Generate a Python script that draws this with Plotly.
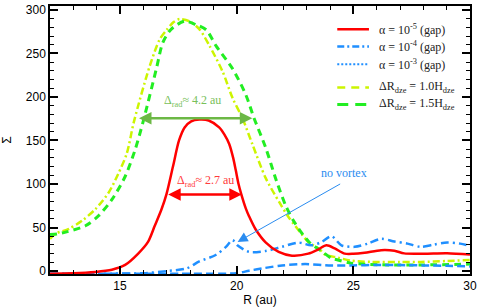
import plotly.graph_objects as go

# ---------------- data ----------------
R_a5 = [12, 13, 13.94, 14.65, 15.22, 15.78, 16.2, 16.49, 16.78, 16.99, 17.27, 17.53, 17.77, 18.05,
        18.4, 18.8, 19.25, 19.47, 19.68, 19.85, 19.96, 20.08, 20.2, 20.39, 20.53, 20.81, 21.24,
        21.8, 22.37, 23.07, 23.5, 23.85, 24.2, 24.63, 25.0, 25.48, 26.19, 26.76, 27.18, 28.03,
        29.02, 30]
S_a5 = [-3, -2.5, -1, 1.5, 7, 20, 33.4, 52, 71, 88, 120, 150, 165, 172,
        174, 173, 165, 157, 146, 130, 116, 100, 88, 72, 63, 48, 33,
        22, 17.7, 20, 25, 29.6, 26, 20, 19.8, 21, 24, 23.3, 20.3, 20,
        20.5, 19]

R_a4 = [12, 14, 16, 17, 17.85, 18.4, 19.1, 19.54, 19.82, 20.03, 20.53, 21.24, 21.94, 22.65,
        23.2, 23.64, 24.06, 24.49, 25.06, 25.62, 26.19, 26.76, 27.32, 27.89, 28.45, 29.02,
        29.58, 30]
S_a4 = [-3, -3, -2.5, 0, 3, 11, 18.4, 27.8, 35.5, 29.6, 22, 23, 27.8, 32.7,
        29.6, 33.4, 40, 29.6, 27.8, 31.5, 37, 34, 31.5, 27.8, 30.4, 32.7,
        31.5, 29]

R_a3 = [12, 18, 20, 20.53, 21.2, 21.94, 22.93, 24.06, 25, 26, 27, 28, 29, 30]
S_a3 = [-3, -3, -2.5, 0.4, 3.5, 6.4, 8, 6.4, 6.5, 7, 6.8, 6.5, 6, 5.3]

R_h10 = [12, 12.25, 12.81, 13.38, 13.94, 14.51, 14.93, 15.29, 15.6, 16.28, 16.7, 17.0, 17.3,
         17.55, 17.97, 18.4, 18.83, 19.4, 19.82, 20.24, 20.67, 21.24, 21.84, 22.25, 22.83,
         23.07, 23.55, 23.78, 24.34, 24.9, 25.76, 27.0, 27.89, 29.0, 30]
S_h10 = [37, 43, 48.5, 58, 71, 90, 112, 135, 172, 236, 266, 277, 286,
         289.5, 287, 278, 259, 229, 199, 176, 146, 107, 78.5, 61, 41,
         33.4, 25, 19, 15.4, 12, 10.5, 10.5, 10.5, 11.5, 12.7]

R_h15 = [12, 12.3, 12.67, 13.52, 14.08, 14.65, 15.22, 15.64, 16.0, 16.56, 16.84, 17.2, 17.77,
         18.26, 18.7, 19.11, 19.82, 20.39, 20.74, 21.24, 21.7, 22.12, 22.5, 23.1, 23.68, 24.06,
         24.34, 24.9, 25.5, 26.5, 28, 30]
S_h15 = [42, 42.5, 44.7, 52, 63.5, 82, 108.6, 138.7, 172.5, 232.6, 262.7, 278, 287,
         283, 277, 259, 232.6, 202.6, 176, 142, 104, 74, 55, 33.4, 22, 14.7,
         12.7, 9, 7.9, 7, 7, 8]

legend_labels = ["α = 10<sup>-5</sup> (gap)", "α = 10<sup>-4</sup> (gap)", "α = 10<sup>-3</sup> (gap)",
                 "ΔR<sub>dze</sub> = 1.0H<sub>dze</sub>", "ΔR<sub>dze</sub> = 1.5H<sub>dze</sub>"]

x_ticks = [15, 20, 25, 30]
y_ticks = [0, 50, 100, 150, 200, 250, 300]

# ---------------- styles ----------------
RED = "#ff0000"
BLUE = "#1f8fff"
YEL = "#ccf500"
GRN = "#22ee22"

fig = go.Figure()

def add_line(x, y, color, width, dash):
    fig.add_trace(go.Scatter(x=x, y=y, mode="lines", showlegend=False,
                             line=dict(color=color, width=width, dash=dash, shape="spline", smoothing=0.8),
                             hoverinfo="skip"))

add_line(R_h10, S_h10, YEL, 2.5, "7px,3px,2px,3px")
add_line(R_h15, S_h15, GRN, 3, "7px,5px")
add_line(R_a3, S_a3, BLUE, 2.5, "8px,4px")
add_line(R_a4, S_a4, BLUE, 2.5, "8px,4px,2px,4px")
add_line(R_a5, S_a5, RED, 2.5, "solid")

# ---------------- manual legend ----------------
L, T, W, H = 49, 3, 424, 273
def px(p):
    return (p - L) / W
def py(p):
    return (T + H - p) / H

leg_rows = [26.7, 44.3, 62.3, 86, 103.3]
leg_styles = [(RED, 2.5, "solid"), (BLUE, 2.5, "7px,3px,2px,3px"), (BLUE, 2, "2px,2px"),
              (YEL, 2.5, "8px,6px"), (GRN, 3, "11px,7px")]
shapes = []
annotations = []
for lab, yr, (c, w, d) in zip(legend_labels, leg_rows, leg_styles):
    shapes.append(dict(type="line", xref="paper", yref="paper", x0=px(339), x1=px(371),
                       y0=py(yr), y1=py(yr), line=dict(color=c, width=w, dash=d)))
    annotations.append(dict(xref="paper", yref="paper", x=px(379), y=py(yr), xanchor="left",
                            yanchor="middle", text=lab, showarrow=False,
                            font=dict(family="Liberation Serif", size=12, color="#222222")))

# arrows and labels
ARR_G = "#6cb845"
annotations += [
    dict(x=20.67, y=175.5, ax=15.75, ay=175.5, xref="x", yref="y", axref="x", ayref="y",
         text="", showarrow=True, arrowhead=2, arrowside="end+start", arrowsize=1,
         arrowwidth=2.5, arrowcolor=ARR_G),
    dict(x=20.22, y=88, ax=17.0, ay=88, xref="x", yref="y", axref="x", ayref="y",
         text="", showarrow=True, arrowhead=2, arrowside="end+start", arrowsize=1,
         arrowwidth=2.5, arrowcolor=RED),
    dict(x=20.04, y=33.5, ax=24.5, ay=101, xref="x", yref="y", axref="x", ayref="y",
         text="", showarrow=True, arrowhead=2, arrowsize=2, arrowwidth=1, arrowcolor="#2a8cf0"),
    dict(x=18.11, y=195, xref="x", yref="y", text="Δ<sub>rad</sub>≈ 4.2 au", showarrow=False,
         font=dict(family="Liberation Serif", size=12, color="#78c05a")),
    dict(x=18.65, y=103, xref="x", yref="y", text="Δ<sub>rad</sub>≈ 2.7 au", showarrow=False,
         font=dict(family="Liberation Serif", size=12, color="#ff3b3b")),
    dict(x=24.61, y=112.7, xref="x", yref="y", text="no vortex", showarrow=False,
         font=dict(family="Liberation Serif", size=12, color="#2a8cf0")),
]

axis_common = dict(showline=True, linecolor="black", linewidth=1.5, mirror="ticks",
                   ticks="inside", ticklen=8, tickwidth=1.5, tickcolor="black",
                   showgrid=False, zeroline=False,
                   tickfont=dict(family="Liberation Sans", size=12, color="black"))

fig.update_layout(
    width=480, height=307,
    margin=dict(l=L, r=480 - L - W, t=T, b=307 - T - H),
    paper_bgcolor="white", plot_bgcolor="white",
    shapes=shapes, annotations=annotations,
    xaxis=dict(range=[12, 30], tickmode="array", tickvals=x_ticks,
               minor=dict(dtick=1, tick0=0, ticks="inside", ticklen=4.5, tickwidth=1, tickcolor="black"),
               title=dict(text="R (au)", font=dict(family="Liberation Sans", size=12, color="black"), standoff=2),
               **axis_common),
    yaxis=dict(range=[-3.4, 304.5], tickmode="array", tickvals=y_ticks,
               minor=dict(dtick=10, tick0=0, ticks="inside", ticklen=4.5, tickwidth=1, tickcolor="black"),
               title=dict(text="Σ", font=dict(family="Liberation Sans", size=12, color="black"), standoff=14),
               **axis_common),
    showlegend=False,
)

fig.write_html("out.html", config={"displayModeBar": False},
               post_script="document.body.style.margin='0';document.body.style.padding='0';")
